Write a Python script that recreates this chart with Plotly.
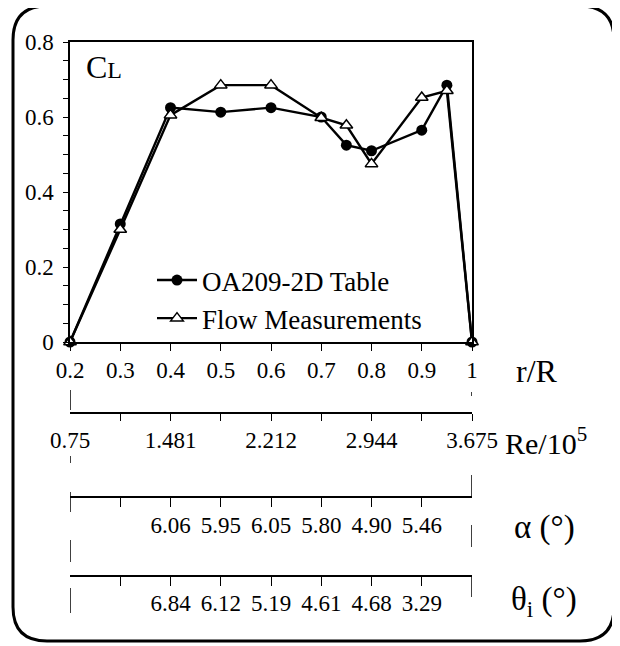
import plotly.graph_objects as go

# ---------------- data ----------------
r_vals = [0.2, 0.3, 0.4, 0.5, 0.6, 0.7, 0.75, 0.8, 0.9, 0.95, 1.0]
cl_table = [0.0, 0.315, 0.625, 0.613, 0.625, 0.600, 0.525, 0.510, 0.565, 0.685, 0.0]
cl_flow = [0.0, 0.300, 0.605, 0.685, 0.685, 0.598, 0.578, 0.475, 0.652, 0.670, 0.0]

r_ticks = [0.2, 0.3, 0.4, 0.5, 0.6, 0.7, 0.8, 0.9, 1.0]
r_labels = ["0.2", "0.3", "0.4", "0.5", "0.6", "0.7", "0.8", "0.9", "1"]
y_ticks = [0, 0.2, 0.4, 0.6, 0.8]
y_labels = ["0", "0.2", "0.4", "0.6", "0.8"]

re_pos = [0.2, 0.4, 0.6, 0.8, 1.0]
re_labels = ["0.75", "1.481", "2.212", "2.944", "3.675"]
alpha_pos = [0.4, 0.5, 0.6, 0.7, 0.8, 0.9]
alpha_labels = ["6.06", "5.95", "6.05", "5.80", "4.90", "5.46"]
theta_pos = [0.4, 0.5, 0.6, 0.7, 0.8, 0.9]
theta_labels = ["6.84", "6.12", "5.19", "4.61", "4.68", "3.29"]
sec_minor = [0.3, 0.4, 0.5, 0.6, 0.7, 0.8, 0.9]

# ---------------- layout helpers ----------------
OFF = 8                      # page body margin
W, H = 620 - OFF, 646 - OFF  # figure size so that it fits the window
FONT = "Liberation Serif"


def px(x):
    """page pixel x -> paper fraction"""
    return (x - OFF) / W


def py(y):
    """page pixel y -> paper fraction"""
    return (H - (y - OFF)) / H


x_dom = [px(70), px(472)]
y_dom = [py(342), py(42)]

fig = go.Figure()
fig.add_trace(go.Scatter(
    x=r_vals, y=cl_table, name="OA209-2D Table", mode="lines+markers",
    line=dict(color="black", width=2.4),
    marker=dict(symbol="circle", size=11, color="black"),
    cliponaxis=False,
))
fig.add_trace(go.Scatter(
    x=r_vals, y=cl_flow, name="Flow Measurements", mode="lines+markers",
    line=dict(color="black", width=2.4),
    marker=dict(symbol="triangle-up", size=11, color="white",
                line=dict(color="black", width=1.5)),
    cliponaxis=False,
))

common_sec = dict(
    overlaying="x", anchor="free", range=[0.2, 1.0], side="bottom",
    showline=True, linecolor="black", linewidth=1.5, showgrid=False,
    zeroline=False, tickmode="array", ticks="outside", ticklen=0,
    automargin=False,
    tickfont=dict(family=FONT, size=23, color="black"),
)

fig.update_layout(
    width=W, height=H, margin=dict(l=0, r=0, t=0, b=0, autoexpand=False),
    paper_bgcolor="white", plot_bgcolor="white",
    font=dict(family=FONT, color="black"),
    xaxis=dict(
        domain=x_dom, range=[0.2, 1.0], showline=True, mirror=True,
        linecolor="black", linewidth=1.5, showgrid=False, zeroline=False,
        tickmode="array", tickvals=r_ticks, ticktext=r_labels,
        ticks="outside", ticklen=7, tickcolor="black", automargin=False,
        tickfont=dict(family=FONT, size=23, color="black"),
    ),
    yaxis=dict(
        domain=y_dom, range=[0, 0.8], showline=True, mirror=True,
        linecolor="black", linewidth=1.5, showgrid=False, zeroline=False,
        tickmode="array", tickvals=y_ticks, ticktext=y_labels,
        ticks="outside", ticklen=5, tickcolor="black", automargin=False,
        ticklabelstandoff=5,
        tickfont=dict(family=FONT, size=23, color="black"),
        minor=dict(dtick=0.05, ticks="outside", ticklen=5, tickcolor="black",
                   showgrid=False),
    ),
    xaxis2=dict(position=py(413), tickvals=re_pos, ticktext=re_labels,
                ticklabelstandoff=7,
                minor=dict(tickmode="array", tickvals=sec_minor + [1.0],
                           ticks="outside", ticklen=7, tickcolor="black"),
                **common_sec),
    xaxis3=dict(position=py(497), tickvals=alpha_pos, ticktext=alpha_labels,
                ticklabelstandoff=8,
                minor=dict(tickmode="array", tickvals=sec_minor,
                           ticks="outside", ticklen=9, tickcolor="black"),
                **common_sec),
    xaxis4=dict(position=py(576), tickvals=theta_pos, ticktext=theta_labels,
                ticklabelstandoff=7,
                minor=dict(tickmode="array", tickvals=sec_minor,
                           ticks="outside", ticklen=9, tickcolor="black"),
                **common_sec),
    legend=dict(x=px(152), y=py(256), xanchor="left", yanchor="top",
                bgcolor="rgba(0,0,0,0)", borderwidth=0,
                font=dict(family=FONT, size=27, color="black"),
                itemwidth=40, tracegroupgap=0),
    showlegend=True,
)

# invisible traces so the secondary axes are drawn
for ax in ["x2", "x3", "x4"]:
    fig.add_trace(go.Scatter(x=r_ticks, y=[None] * len(r_ticks), xaxis=ax,
                             yaxis="y", showlegend=False, hoverinfo="skip",
                             mode="markers"))

shapes = []
# broken vertical guides at r = 0.2 and r = 1.0
seg_left = [(390, 410), (456, 463), (492, 512), (540, 562), (588, 613)]
seg_right = [(392, 396), (475, 497), (525, 547), (576, 597)]
for xv, segs in ((0.2, seg_left), (1.0, seg_right)):
    for a, b in segs:
        shapes.append(dict(type="line", xref="x", yref="paper", x0=xv, x1=xv,
                           y0=py(a), y1=py(b),
                           line=dict(color="black", width=1.5)))

# rounded outer frame
L, R, T, B, rad = 13, 614, 6, 641, 34
path = (f"M {px(L)},{py(T + rad)} Q {px(L)},{py(T)} {px(L + rad)},{py(T)} "
        f"L {px(R - rad)},{py(T)} Q {px(R)},{py(T)} {px(R)},{py(T + rad)} "
        f"L {px(R)},{py(B - rad)} Q {px(R)},{py(B)} {px(R - rad)},{py(B)} "
        f"L {px(L + rad)},{py(B)} Q {px(L)},{py(B)} {px(L)},{py(B - rad)} Z")
shapes.append(dict(type="path", xref="paper", yref="paper", path=path,
                   line=dict(color="black", width=3), layer="below"))
fig.update_layout(shapes=shapes)

ann = [
    dict(text='C<span style="font-size:24px">L</span>', x=px(84), y=py(87),
         xanchor="left", yanchor="bottom", font=dict(size=32)),
    dict(text="r/R", x=px(537), y=py(371), xanchor="center", yanchor="middle",
         font=dict(size=32)),
    dict(text="Re/10<sup>5</sup>", x=px(503), y=py(441), xanchor="left",
         yanchor="middle", font=dict(size=30)),
    dict(text="α (°)", x=px(544), y=py(527), xanchor="center",
         yanchor="middle", font=dict(size=33)),
    dict(text="θ<sub>i</sub> (°)", x=px(544), y=py(601), xanchor="center",
         yanchor="middle", font=dict(size=33)),
]
for a in ann:
    a.update(xref="paper", yref="paper", showarrow=False)
    a["font"] = dict(family=FONT, color="black", size=a["font"]["size"])
fig.update_layout(annotations=ann)

fig.write_html("out.html")
